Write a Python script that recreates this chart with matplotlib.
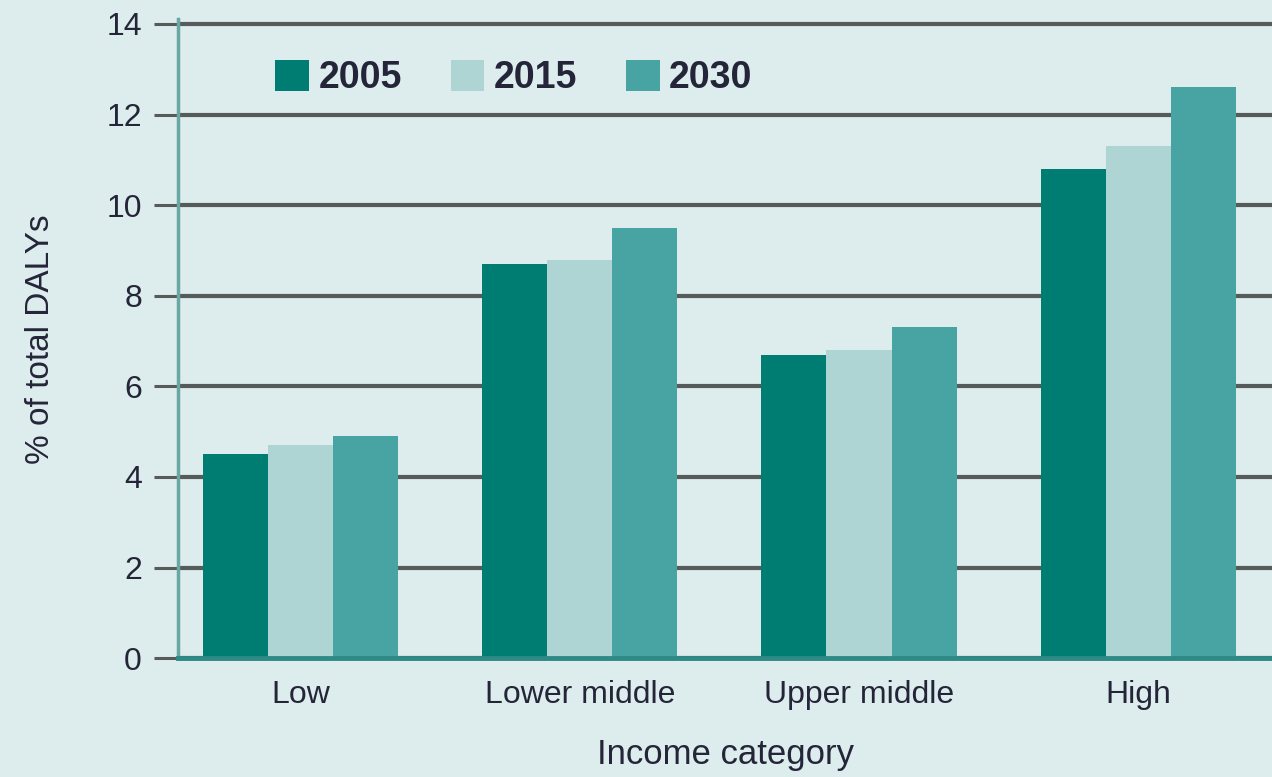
import matplotlib

matplotlib.use("Agg")
import matplotlib.pyplot as plt
import numpy as np

CATEGORIES = ["Low", "Lower middle", "Upper middle", "High"]
YEARS = ["2005", "2015", "2030"]
VALUES_2005 = [4.5, 8.7, 6.7, 10.8]
VALUES_2015 = [4.7, 8.8, 6.8, 11.3]
VALUES_2030 = [4.9, 9.5, 7.3, 12.6]
Y_TICKS = [0, 2, 4, 6, 8, 10, 12, 14]

BAR_COLORS = ["#007d73", "#aed5d4", "#48a4a3"]
BG = "#ddecec"
TEXT = "#25253a"
GRID = "#555a5a"

plt.rcParams["font.family"] = ["Liberation Sans", "DejaVu Sans"]

fig = plt.figure(figsize=(12.72, 7.77), dpi=100, facecolor=BG)
ax = fig.add_axes([0.140, 0.153, 0.86, 0.822])
ax.set_facecolor(BG)

x = np.arange(len(CATEGORIES))
width = 0.233
series = [VALUES_2005, VALUES_2015, VALUES_2030]
for i, (year, vals) in enumerate(zip(YEARS, series)):
    ax.bar(x + (i - 1) * width, vals, width, color=BAR_COLORS[i], label=year, zorder=2)

ax.set_xlim(-0.44, 3.48)
ax.set_ylim(0, 14.1)
ax.set_yticks(Y_TICKS)
ax.set_xticks(x)
ax.set_xticklabels(CATEGORIES)

ax.set_axisbelow(True)
ax.yaxis.grid(True, color=GRID, linewidth=3)
ax.tick_params(axis="y", length=17, width=2.2, color=GRID, pad=9, labelsize=23, labelcolor=TEXT)
ax.tick_params(axis="x", length=0, pad=16, labelsize=23, labelcolor=TEXT)

for side in ["top", "right"]:
    ax.spines[side].set_visible(False)
ax.spines["left"].set_color("#6aa7a3")
ax.spines["left"].set_linewidth(2.5)
ax.spines["bottom"].set_color("#2d8a84")
ax.spines["bottom"].set_linewidth(3.5)
ax.spines["bottom"].set_zorder(3)

ax.set_ylabel("% of total DALYs", fontsize=24, color=TEXT, labelpad=36)
ax.set_xlabel("Income category", fontsize=25, color=TEXT, labelpad=20)

leg = ax.legend(
    loc="upper left",
    bbox_to_anchor=(0.058, 0.99),
    ncol=3,
    frameon=False,
    fontsize=27,
    handlelength=0.9,
    handleheight=0.9,
    handletextpad=0.25,
    columnspacing=1.3,
)
for t in leg.get_texts():
    t.set_color(TEXT)
    t.set_fontweight("bold")

fig.savefig("out.png", dpi=100, facecolor=BG)
